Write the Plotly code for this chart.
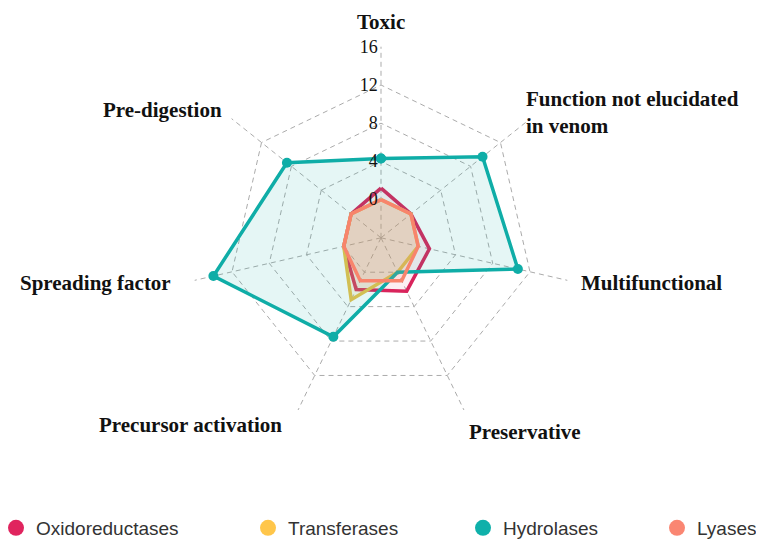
import plotly.graph_objects as go

categories = [
    "Toxic",
    "Function not elucidated<br>in venom",
    "Multifunctional",
    "Preservative",
    "Precursor activation",
    "Spreading factor",
    "Pre-digestion",
]

oxidoreductases = [1.2, 0, 1.2, 2.2, 2.0, 0, 0]
transferases = [0, 0, 0, 0, 3.2, 0, 0]
hydrolases = [4.3, 9.6, 10.7, 0, 7.5, 14, 8.6]
lyases = [0, 0, 0, 1, 1, 0, 0]

series = [
    ("Oxidoreductases", oxidoreductases, "#d9245c", "rgba(217,36,92,0.08)", "#e0245e"),
    ("Transferases", transferases, "#eac24a", "rgba(234,194,74,0.16)", "#ffc64a"),
    ("Hydrolases", hydrolases, "#0fada7", "rgba(15,173,167,0.11)", "#0fb0aa"),
    ("Lyases", lyases, "#f8846c", "rgba(248,132,108,0.15)", "#fa8672"),
]

tick_vals = [0, 4, 8, 12, 16]

# category label placement (px in the figure): x, y, anchor
label_pos = [
    (373, 14, "center"),
    (516, 104, "left"),
    (571, 275, "left"),
    (459, 424, "left"),
    (276, 417, "right"),
    (165, 275, "right"),
    (216, 102, "right"),
]

# each legend box: (x px, anchor)
legend_at = [(-12, "left"), (240, "left"), (455, "left"), (754, "right")]

W, H = 764, 546

fig = go.Figure()
theta = categories + categories[:1]
for name, vals, line_c, fill_c, _ in series:
    fig.add_trace(go.Scatterpolar(
        r=vals + vals[:1], theta=theta, mode="lines+markers", name=name,
        line=dict(color=line_c, width=3.5), marker=dict(size=10, color=line_c),
        fill="toself", fillcolor=fill_c, showlegend=False,
    ))

# legend-only entries (plain dots), one legend each so they can be spaced out
legend_layout = {}
for i, (name, _, _, _, leg_c) in enumerate(series):
    key = "legend" if i == 0 else f"legend{i + 1}"
    fig.add_trace(go.Scatterpolar(
        r=[None], theta=[categories[0]], mode="markers", name=name,
        marker=dict(size=17, color=leg_c), legend=key,
    ))
    lx, anchor = legend_at[i]
    legend_layout[key] = dict(
        x=lx / W, y=1 - 520 / H, xanchor=anchor, yanchor="middle",
        itemsizing="trace", bgcolor="rgba(0,0,0,0)",
        font=dict(family="Liberation Sans", size=19, color="#333"),
    )

for cat, (lx, ly, anchor) in zip(categories, label_pos):
    fig.add_annotation(
        text=cat, x=lx / W, y=1 - ly / H, xref="paper", yref="paper",
        xanchor=anchor, yanchor="middle", align=anchor, showarrow=False,
        font=dict(family="Liberation Serif", size=21, color="#111", weight="bold"),
    )

fig.update_layout(
    width=W, height=H,
    margin=dict(l=0, r=0, t=0, b=0, autoexpand=False),
    paper_bgcolor="white",
    polar=dict(
        domain=dict(x=[181.9 / W, 564.1 / W], y=[1 - 420.9 / H, 1 - 38.7 / H]),
        gridshape="linear",
        bgcolor="rgba(0,0,0,0)",
        radialaxis=dict(
            range=[-4, 16.01], tickvals=tick_vals, angle=90, tickangle=90,
            side="counterclockwise",
            showline=False, ticks="",
            gridcolor="#ababab", griddash="5px,4px", gridwidth=1.2,
            tickfont=dict(family="Liberation Serif", size=18, color="#111"),
        ),
        angularaxis=dict(
            direction="clockwise", rotation=90,
            showline=False, ticks="", showticklabels=False,
            gridcolor="#ababab", griddash="5px,4px", gridwidth=1.2,
        ),
    ),
    **legend_layout,
)

fig.write_html("out.html")
